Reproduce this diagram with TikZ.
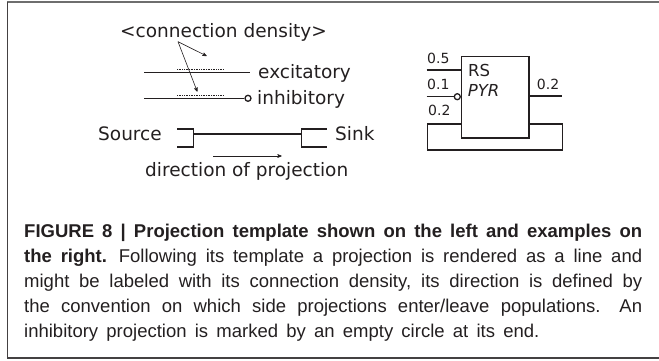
\documentclass[tikz,border=0pt]{standalone}
\usepackage{fontspec}
\setmainfont{DejaVu Sans}
\newfontfamily\capfont[WordSpace=1.6]{Liberation Sans}
\usepackage{tikz}
\usetikzlibrary{arrows,positioning}

\definecolor{ink}{HTML}{231F20}
\definecolor{rim}{HTML}{6E6E6E}

\tikzset{
  lbl/.style={inner sep=0pt,anchor=base west,text=ink,font=\fontsize{18.5}{20}\selectfont},
  small/.style={inner sep=0pt,anchor=base west,text=ink,font=\fontsize{16.5}{18}\selectfont},
  num/.style={inner sep=0pt,anchor=base west,text=ink,font=\fontsize{14}{15}\selectfont},
  capline/.style={inner sep=0pt,anchor=base west,text=ink,font=\capfont\fontsize{18.5}{25}\selectfont},
  proj/.style={draw=ink,line width=1.4pt},
  density/.style={draw=ink,line width=0.7pt,densely dotted},
  hint/.style={draw=ink,line width=0.6pt,->,>=stealth'},
  inhib/.style={circle,draw=ink,fill=white,line width=1.3pt,inner sep=0pt,minimum size=6pt},
  popbox/.style={draw=ink,line width=1.3pt,inner sep=0pt,minimum width=67.6pt,
                 minimum height=81.3pt,anchor=north west}
}
\newcommand{\fullline}[1]{\makebox[618pt][s]{#1}}

\begin{document}
\begin{tikzpicture}[x=1pt,y=-1pt]
  \useasboundingbox (0,0) rectangle (659,361);

  % frame
  \draw[rim,line width=1.5pt] (659,2) -- (7,2);
  \draw[ink!85,line width=1.2pt] (7.5,2) -- (7.5,358) -- (659,358);

  % template
  \node[lbl] (dens) at (120,37.7) {<connection density>};
  \coordinate (dsrc) at (178,41.7);

  \coordinate (ex0) at (144,72.7);
  \coordinate (ex1) at (250,72.7);
  \node[lbl] (exc) at (258,78.5) {excitatory};
  \coordinate (dx0) at (177,69.3);
  \coordinate (dx1) at (223,69.3);

  \coordinate (in0) at (144,98.3);
  \node[inhib] (inc) at (248,98.3) {};
  \node[lbl] (inh) at (257,104) {inhibitory};
  \coordinate (di0) at (177,95);
  \coordinate (di1) at (223,95);

  \draw[proj] (ex0) -- (ex1);
  \draw[proj] (in0) -- (inc);
  \draw[density] (dx0) -- (dx1);
  \draw[density] (di0) -- (di1);
  \draw[hint] (dsrc) -- (206.7,56);
  \draw[hint] (dsrc) -- (197.3,91.7);

  \node[lbl] (src) at (98,140.7) {Source};
  \node[lbl] (snk) at (335,140.7) {Sink};
  \coordinate (srcb) at (193.3,134);
  \coordinate (snkb) at (301.7,134);
  \draw[proj] (srcb) ++(-16.3,-5) -- ++(16.3,0) -- ++(0,18) -- ++(-16.3,0);
  \draw[proj] (snkb) ++(25,-5) -- ++(-25,0) -- ++(0,18) -- ++(25,0);
  \draw[proj] (srcb) -- (snkb);

  \coordinate (dir0) at (213.3,156);
  \coordinate (dir1) at (281.7,156);
  \draw[hint] (dir0) -- (dir1);
  \node[lbl] (dirl) at (145,176) {direction of projection};

  % example
  \node[popbox] (pyr) at (460.7,56) {};
  \node[small] (rs) at (468,76.7) {RS};
  \node[small] (cls) at (467.7,96) {\itshape PYR};

  \coordinate (i5) at (426.7,70);
  \coordinate (i1) at (426.7,96.7);
  \coordinate (o2) at (561.7,96);
  \node[inhib] (icir) at (457.3,96.7) {};
  \coordinate (lq) at (427.3,124);
  \coordinate (lp) at (562.3,150);

  \draw[proj,line width=1.3pt] (i5) -- (i5 -| pyr.west);
  \draw[proj,line width=1.3pt] (i1) -- (icir);
  \draw[proj,line width=1.3pt] (pyr.east |- o2) -- (o2);
  \draw[proj,line width=1.3pt] (pyr.east |- lq) -| (lp) -| (lq) -- (pyr.west |- lq);

  \node[num] (w5) at (427,63.3) {0.5};
  \node[num] (w1) at (427,89.3) {0.1};
  \node[num] (w2) at (428,115) {0.2};
  \node[num] (wo) at (536.7,89.3) {0.2};

  % caption
  \node[capline] (cap1) at (24,237) {\fullline{\bfseries FIGURE 8 | Projection template shown on the left and examples on}};
  \node[capline] (cap2) at (24,262) {\fullline{\textbf{the right.} Following its template a projection is rendered as a line and}};
  \node[capline] (cap3) at (24,287) {\fullline{might be labeled with its connection density, its direction is defined by}};
  \node[capline] (cap4) at (24,312) {\fullline{the convention on which side projections enter/leave populations. An}};
  \node[capline] (cap5) at (24,337) {inhibitory projection is marked by an empty circle at its end.};
\end{tikzpicture}
\end{document}
